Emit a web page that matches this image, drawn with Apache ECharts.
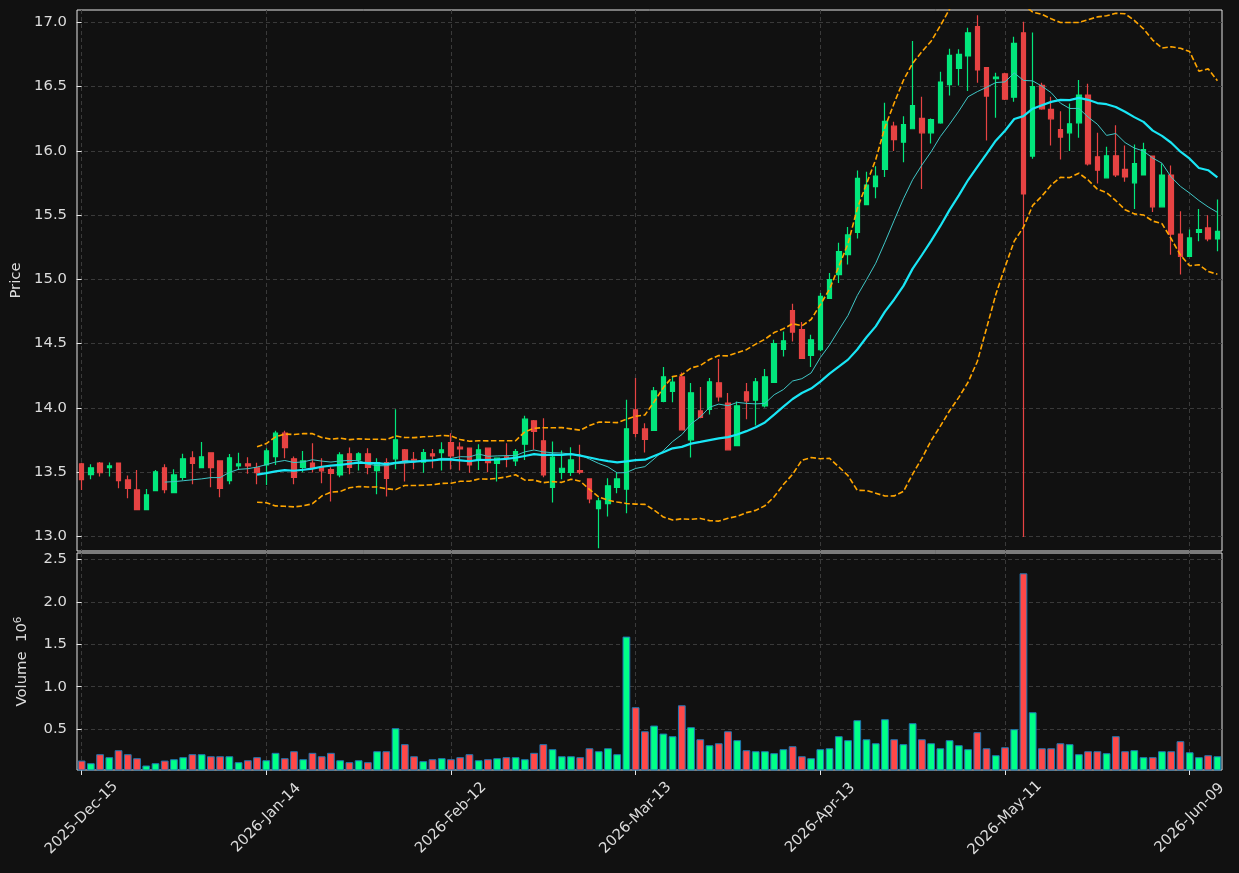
<!DOCTYPE html>
<html>
<head>
<meta charset="utf-8">
<title>Price / Volume</title>
<script src="https://cdn.jsdelivr.net/npm/echarts@6/dist/echarts.min.js"></script>
<style>
  html, body { margin: 0; padding: 0; background: #111111; }
  #chart { width: 1239px; height: 873px; }
</style>
</head>
<body>
<div id="chart"></div>
<script>
  // trading days
  const dates = [
    '2025-12-15','2025-12-16','2025-12-17','2025-12-18','2025-12-19','2025-12-22','2025-12-23','2025-12-24','2025-12-26','2025-12-29','2025-12-30','2025-12-31',
    '2026-01-02','2026-01-05','2026-01-06','2026-01-07','2026-01-08','2026-01-09','2026-01-12','2026-01-13','2026-01-14','2026-01-15','2026-01-16','2026-01-20',
    '2026-01-21','2026-01-22','2026-01-23','2026-01-26','2026-01-27','2026-01-28','2026-01-29','2026-01-30',
    '2026-02-02','2026-02-03','2026-02-04','2026-02-05','2026-02-06','2026-02-09','2026-02-10','2026-02-11','2026-02-12','2026-02-13','2026-02-17','2026-02-18',
    '2026-02-19','2026-02-20','2026-02-23','2026-02-24','2026-02-25','2026-02-26','2026-02-27',
    '2026-03-02','2026-03-03','2026-03-04','2026-03-05','2026-03-06','2026-03-09','2026-03-10','2026-03-11','2026-03-12','2026-03-13','2026-03-16','2026-03-17',
    '2026-03-18','2026-03-19','2026-03-20','2026-03-23','2026-03-24','2026-03-25','2026-03-26','2026-03-27','2026-03-30','2026-03-31',
    '2026-04-01','2026-04-02','2026-04-06','2026-04-07','2026-04-08','2026-04-09','2026-04-10','2026-04-13','2026-04-14','2026-04-15','2026-04-16','2026-04-17',
    '2026-04-20','2026-04-21','2026-04-22','2026-04-23','2026-04-24','2026-04-27','2026-04-28','2026-04-29','2026-04-30',
    '2026-05-01','2026-05-04','2026-05-05','2026-05-06','2026-05-07','2026-05-08','2026-05-11','2026-05-12','2026-05-13','2026-05-14','2026-05-15','2026-05-18',
    '2026-05-19','2026-05-20','2026-05-21','2026-05-22','2026-05-26','2026-05-27','2026-05-28','2026-05-29',
    '2026-06-01','2026-06-02','2026-06-03','2026-06-04','2026-06-05','2026-06-08','2026-06-09','2026-06-10','2026-06-11','2026-06-12'
  ];

  const opens = [
    13.564,13.481,13.570,13.535,13.570,13.439,13.361,13.208,13.356,13.533,13.340,13.458,13.611,13.535,13.650,13.587,13.434,13.548,13.564,13.533,
    13.556,13.621,13.803,13.603,13.536,13.570,13.536,13.520,13.478,13.642,13.595,13.642,13.512,13.574,13.603,13.673,13.600,13.577,13.642,13.652,
    13.730,13.694,13.686,13.595,13.686,13.567,13.618,13.587,13.717,13.899,13.743,13.380,13.497,13.497,13.512,13.447,13.216,13.255,13.380,13.367,
    13.985,13.836,13.824,14.050,14.128,14.242,13.751,13.976,13.988,14.195,14.037,13.706,14.125,14.060,14.016,14.198,14.455,14.756,14.608,14.409,
    14.452,14.852,15.037,15.193,15.366,15.582,15.722,15.855,16.192,16.067,16.172,16.252,16.140,16.218,16.515,16.641,16.738,16.966,16.647,16.561,
    16.600,16.418,16.919,15.959,16.509,16.322,16.166,16.140,16.218,16.434,15.954,15.790,15.961,15.855,15.751,15.812,15.959,15.564,15.812,15.352,
    15.179,15.366,15.400,15.314
  ];
  const highs = [
    13.572,13.561,13.578,13.575,13.574,13.473,13.517,13.369,13.517,13.561,13.523,13.642,13.663,13.735,13.652,13.590,13.640,13.650,13.616,13.572,
    13.686,13.821,13.821,13.621,13.665,13.725,13.608,13.538,13.655,13.691,13.655,13.686,13.608,13.608,13.990,13.680,13.657,13.680,13.680,13.733,
    13.803,13.733,13.690,13.717,13.690,13.612,13.725,13.680,13.938,13.905,13.920,13.738,13.668,13.694,13.712,13.452,13.302,13.452,13.494,14.063,
    14.232,13.881,14.162,14.317,14.245,14.276,14.193,14.162,14.232,14.380,14.115,14.050,14.193,14.232,14.302,14.530,14.595,14.810,14.668,14.569,
    14.894,15.050,15.284,15.408,15.847,15.837,15.881,16.374,16.226,16.270,16.855,16.421,16.252,16.615,16.795,16.790,16.958,17.055,16.650,16.608,
    16.608,16.888,17.004,16.921,16.530,16.421,16.309,16.369,16.551,16.522,16.140,16.032,16.200,16.042,16.050,16.063,15.962,15.901,15.886,15.530,
    15.387,15.548,15.499,15.621
  ];
  const lows = [
    13.361,13.445,13.465,13.465,13.374,13.297,13.205,13.205,13.354,13.336,13.336,13.439,13.405,13.533,13.382,13.304,13.405,13.517,13.488,13.405,
    13.400,13.556,13.608,13.406,13.499,13.496,13.414,13.271,13.460,13.483,13.512,13.483,13.328,13.310,13.522,13.426,13.522,13.494,13.530,13.512,
    13.520,13.512,13.494,13.517,13.499,13.426,13.538,13.548,13.595,13.673,13.460,13.263,13.445,13.470,13.483,13.258,12.907,13.154,13.336,13.180,
    13.772,13.652,13.820,14.043,14.043,13.825,13.613,13.920,13.949,14.050,13.670,13.703,13.912,13.863,14.003,14.195,14.400,14.517,14.380,14.317,
    14.440,14.850,14.972,15.115,15.317,15.580,15.631,15.797,15.998,15.912,16.170,15.704,16.057,16.210,16.431,16.509,16.465,16.530,16.081,16.257,
    16.395,16.382,12.995,15.939,16.320,16.042,15.933,15.998,16.101,15.886,15.746,15.788,15.797,15.759,15.548,15.810,15.525,15.560,15.192,15.037,
    15.175,15.296,15.296,15.218
  ];
  const closes = [
    13.442,13.533,13.495,13.548,13.434,13.373,13.208,13.323,13.502,13.364,13.478,13.604,13.567,13.619,13.535,13.373,13.611,13.564,13.548,13.495,
    13.665,13.803,13.691,13.458,13.587,13.536,13.510,13.489,13.634,13.536,13.642,13.536,13.574,13.450,13.751,13.575,13.593,13.652,13.626,13.673,
    13.626,13.680,13.556,13.673,13.574,13.608,13.614,13.660,13.912,13.816,13.478,13.616,13.530,13.595,13.499,13.291,13.276,13.393,13.447,13.837,
    13.802,13.754,14.133,14.242,14.201,13.829,14.117,13.925,14.203,14.086,13.673,14.016,14.055,14.203,14.242,14.499,14.522,14.590,14.384,14.530,
    14.868,14.998,15.216,15.346,15.785,15.733,15.803,16.229,16.088,16.205,16.353,16.140,16.244,16.535,16.743,16.751,16.919,16.629,16.426,16.574,
    16.402,16.836,15.665,16.499,16.327,16.249,16.107,16.210,16.434,15.899,15.849,15.961,15.812,15.797,15.901,16.010,15.564,15.812,15.352,15.179,
    15.322,15.387,15.314,15.374
  ];
  const volumes = [
    131000,100000,206000,171000,253000,206000,159000,73000,100000,131000,147000,171000,206000,206000,182000,182000,182000,112000,135000,171000,
    135000,222000,159000,241000,147000,222000,182000,222000,135000,112000,135000,112000,241000,241000,512000,324000,182000,124000,147000,159000,
    147000,171000,206000,135000,147000,159000,171000,171000,147000,222000,324000,265000,182000,182000,171000,276000,241000,276000,206000,1590000,
    759000,476000,543000,449000,418000,782000,524000,382000,312000,335000,476000,371000,253000,241000,241000,218000,265000,300000,182000,159000,
    265000,276000,418000,371000,606000,382000,335000,618000,382000,324000,571000,382000,335000,276000,371000,312000,265000,465000,276000,194000,
    288000,500000,2335000,700000,276000,276000,335000,324000,206000,241000,241000,218000,418000,241000,253000,171000,171000,241000,241000,359000,
    229000,171000,194000,182000
  ];

  const priceTicks = [13.0, 13.5, 14.0, 14.5, 15.0, 15.5, 16.0, 16.5, 17.0];
  const volumeTicks = [500000, 1000000, 1500000, 2000000, 2500000];
  const dateTicks = [0, 20, 40, 60, 80, 100, 120];

  const MONTHS = ['Jan','Feb','Mar','Apr','May','Jun','Jul','Aug','Sep','Oct','Nov','Dec'];
  function fmtDate(s) {
    const p = s.split('-');
    return p[0] + '-' + MONTHS[+p[1] - 1] + '-' + p[2];
  }

  function movingAverage(values, n) {
    return values.map((v, i) => {
      if (i < n - 1) return null;
      let s = 0;
      for (let j = i - n + 1; j <= i; j++) s += values[j];
      return +(s / n).toFixed(4);
    });
  }

  function bollinger(values, n, k) {
    const mid = movingAverage(values, n);
    const upper = [], lower = [];
    values.forEach((v, i) => {
      if (i < n - 1) { upper.push(null); lower.push(null); return; }
      let ss = 0;
      for (let j = i - n + 1; j <= i; j++) ss += Math.pow(values[j] - mid[i], 2);
      const sd = Math.sqrt(ss / (n - 1));
      upper.push(+(mid[i] + k * sd).toFixed(4));
      lower.push(+(mid[i] - k * sd).toFixed(4));
    });
    return { upper, lower };
  }

  const UP = '#02e77c', DOWN = '#e74343';
  const VOL_UP = '#00ff88', VOL_DOWN = '#ff4848';
  const TEXT = '#dcdcdc';
  const GRID_LINE = { color: '#3a3a3a', width: 1, type: [4, 3] };
  const FONT = 'DejaVu Sans';
  const FS = 14.8;

  const ma10 = movingAverage(closes, 10);
  const ma20 = movingAverage(closes, 20);
  const bb = bollinger(closes, 20, 2);

  const candles = dates.map((d, i) => [opens[i], closes[i], lows[i], highs[i]]);
  const volBars = volumes.map((v, i) => ({
    value: v,
    itemStyle: { color: closes[i] >= opens[i] ? VOL_UP : VOL_DOWN }
  }));

  const myChart = echarts.init(document.getElementById('chart'));
  const option = {
    backgroundColor: '#111111',
    animation: false,
    textStyle: { fontFamily: FONT },
    grid: [
      { left: 77, top: 10, width: 1145, height: 541, show: true, borderColor: '#e6e6e6', borderWidth: 1, backgroundColor: 'transparent' },
      { left: 77, top: 553, width: 1145, height: 217, show: true, borderColor: '#e6e6e6', borderWidth: 1, backgroundColor: 'transparent' }
    ],
    xAxis: [
      { type: 'category', gridIndex: 0, position: 'bottom', data: dates, show: false },
      { type: 'category', gridIndex: 1, position: 'bottom', data: dates, show: false },
      {
        type: 'value', gridIndex: 0, position: 'bottom', min: -0.5, max: 123.5,
        axisLine: { show: false },
        axisTick: { show: false, customValues: dateTicks },
        axisLabel: { show: false, customValues: dateTicks },
        splitLine: { show: true, lineStyle: GRID_LINE }
      },
      {
        type: 'value', gridIndex: 1, position: 'bottom', min: -0.5, max: 123.5,
        axisLine: { show: false },
        axisTick: { show: true, length: 5, lineStyle: { color: '#e6e6e6' }, customValues: dateTicks },
        axisLabel: {
          customValues: dateTicks,
          formatter: v => fmtDate(dates[Math.round(v)]),
          rotate: 45, align: 'center', verticalAlign: 'middle', margin: 48,
          color: TEXT, fontSize: FS, fontFamily: FONT
        },
        splitLine: { show: true, lineStyle: GRID_LINE }
      }
    ],
    yAxis: [
      {
        type: 'value', gridIndex: 0, min: 12.886, max: 17.096,
        name: 'Price', nameLocation: 'middle', nameGap: 52,
        nameTextStyle: { color: TEXT, fontSize: FS, fontFamily: FONT },
        axisLine: { show: false },
        axisTick: { show: true, length: 5, lineStyle: { color: '#e6e6e6' }, customValues: priceTicks },
        axisLabel: { customValues: priceTicks, formatter: v => v.toFixed(1), color: TEXT, fontSize: FS, fontFamily: FONT, margin: 10 },
        splitLine: { show: true, lineStyle: GRID_LINE }
      },
      {
        type: 'value', gridIndex: 1, min: 20000, max: 2574000,
        name: 'Volume  10{sup|6}', nameLocation: 'middle', nameGap: 45,
        nameTextStyle: {
          color: TEXT, fontSize: FS, fontFamily: FONT,
          rich: { sup: { color: TEXT, fontSize: 10.5, fontFamily: FONT, padding: [0, 0, 8, 0] } }
        },
        axisLine: { show: false },
        axisTick: { show: true, length: 5, lineStyle: { color: '#e6e6e6' }, customValues: volumeTicks },
        axisLabel: { customValues: volumeTicks, formatter: v => (v / 1e6).toFixed(1), color: TEXT, fontSize: FS, fontFamily: FONT, margin: 10 },
        splitLine: { show: true, lineStyle: GRID_LINE }
      }
    ],
    series: [
      {
        name: 'OHLC', type: 'candlestick', xAxisIndex: 0, yAxisIndex: 0,
        data: candles, barWidth: 5,
        itemStyle: { color: UP, color0: DOWN, borderColor: UP, borderColor0: DOWN, borderWidth: 1.2 },
        z: 3
      },
      {
        name: 'MA10', type: 'line', xAxisIndex: 0, yAxisIndex: 0, data: ma10,
        showSymbol: false, lineStyle: { color: '#3fc6c6', width: 1 }, z: 4
      },
      {
        name: 'MA20', type: 'line', xAxisIndex: 0, yAxisIndex: 0, data: ma20,
        showSymbol: false, lineStyle: { color: '#19e6f5', width: 2.2 }, z: 4
      },
      {
        name: 'BB upper', type: 'line', xAxisIndex: 0, yAxisIndex: 0, data: bb.upper,
        showSymbol: false, lineStyle: { color: '#ffa500', width: 1.6, type: [5.5, 2.5] }, z: 5
      },
      {
        name: 'BB lower', type: 'line', xAxisIndex: 0, yAxisIndex: 0, data: bb.lower,
        showSymbol: false, lineStyle: { color: '#ffa500', width: 1.6, type: [5.5, 2.5] }, z: 5
      },
      {
        name: 'Volume', type: 'bar', xAxisIndex: 1, yAxisIndex: 1, data: volBars,
        barWidth: '84%',
        itemStyle: { borderColor: '#1f77b4', borderWidth: 1 }
      }
    ]
  };
  option && myChart.setOption(option);
</script>
</body>
</html>
